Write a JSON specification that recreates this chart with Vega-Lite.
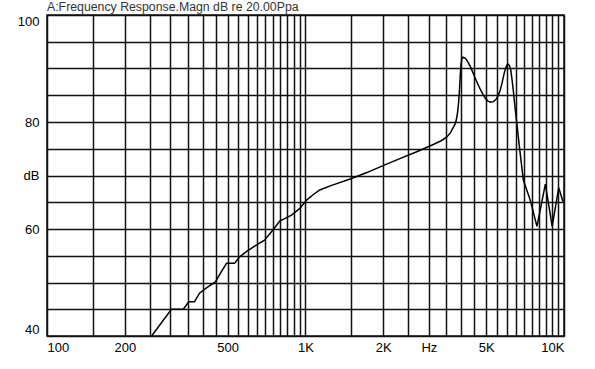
{
  "$schema": "https://vega.github.io/schema/vega-lite/v6.json",
  "width": 517,
  "height": 321,
  "autosize": {"type": "none"},
  "padding": {"left": 47, "top": 15, "right": 31, "bottom": 33},
  "background": "white",
  "title": {"text": "A:Frequency Response.Magn dB re 20.00Ppa", "anchor": "start", "frame": "group", "fontSize": 12.3, "font": "Liberation Sans", "fontWeight": "normal", "color": "#333333", "offset": 2},
  "config": {"view": {"stroke": "#111111", "strokeWidth": 1.5}},
  "data": {"values": [
    {"f": 254, "db": 40},
    {"f": 303, "db": 45},
    {"f": 337, "db": 45},
    {"f": 353, "db": 46.4},
    {"f": 372, "db": 46.4},
    {"f": 389, "db": 48},
    {"f": 414, "db": 49},
    {"f": 448, "db": 50.1},
    {"f": 472, "db": 52},
    {"f": 495, "db": 53.6},
    {"f": 532, "db": 53.6},
    {"f": 556, "db": 54.8},
    {"f": 596, "db": 55.9},
    {"f": 645, "db": 57},
    {"f": 694, "db": 57.9},
    {"f": 748, "db": 59.8},
    {"f": 795, "db": 61.5},
    {"f": 883, "db": 62.6},
    {"f": 948, "db": 63.8},
    {"f": 1010, "db": 65.4},
    {"f": 1070, "db": 66.4},
    {"f": 1135, "db": 67.3},
    {"f": 1270, "db": 68.2},
    {"f": 1480, "db": 69.3},
    {"f": 1718, "db": 70.5},
    {"f": 1985, "db": 71.8},
    {"f": 2305, "db": 73.1},
    {"f": 2680, "db": 74.4},
    {"f": 3090, "db": 75.7},
    {"f": 3350, "db": 76.5},
    {"f": 3520, "db": 77.2},
    {"f": 3640, "db": 78.0},
    {"f": 3720, "db": 78.9},
    {"f": 3790, "db": 79.6},
    {"f": 3840, "db": 80.6},
    {"f": 3880, "db": 82.0},
    {"f": 3910, "db": 83.6},
    {"f": 3940, "db": 85.8},
    {"f": 3965, "db": 88.3},
    {"f": 3990, "db": 90.4},
    {"f": 4020, "db": 91.7},
    {"f": 4070, "db": 92.1},
    {"f": 4130, "db": 92.0},
    {"f": 4190, "db": 91.7},
    {"f": 4250, "db": 91.2},
    {"f": 4330, "db": 90.5},
    {"f": 4410, "db": 89.6},
    {"f": 4500, "db": 88.6},
    {"f": 4580, "db": 87.7},
    {"f": 4680, "db": 86.7},
    {"f": 4780, "db": 85.8},
    {"f": 4880, "db": 85.0},
    {"f": 4980, "db": 84.3},
    {"f": 5080, "db": 83.9},
    {"f": 5200, "db": 83.7},
    {"f": 5330, "db": 83.8},
    {"f": 5450, "db": 84.2},
    {"f": 5560, "db": 84.9},
    {"f": 5660, "db": 85.9},
    {"f": 5760, "db": 87.3},
    {"f": 5850, "db": 88.8},
    {"f": 5930, "db": 89.9},
    {"f": 6010, "db": 90.6},
    {"f": 6090, "db": 90.8},
    {"f": 6160, "db": 90.5},
    {"f": 6230, "db": 89.6},
    {"f": 6300, "db": 87.8},
    {"f": 6380, "db": 85.5},
    {"f": 6470, "db": 82.6},
    {"f": 6560, "db": 80.0},
    {"f": 6700, "db": 76.0},
    {"f": 6850, "db": 72.0},
    {"f": 6960, "db": 69.2},
    {"f": 7400, "db": 65.4},
    {"f": 7860, "db": 60.5},
    {"f": 8470, "db": 68.4},
    {"f": 9000, "db": 60.5},
    {"f": 9540, "db": 67.7},
    {"f": 9870, "db": 65.4},
    {"f": 10000, "db": 65}
  ]},
  "mark": {"type": "line", "color": "black", "strokeWidth": 1.5, "clip": true},
  "encoding": {
    "x": {
      "field": "f", "type": "quantitative",
      "scale": {"type": "log", "domain": [100, 10000], "nice": false},
      "axis": {
        "title": null,
        "values": [100,150,200,250,300,350,400,450,500,550,600,650,700,750,800,850,900,950,1000,1500,2000,2500,3000,3500,4000,4500,5000,5500,6000,6500,7000,7500,8000,8500,9000,9500,10000],
        "labelExpr": "datum.value == 100 ? '100' : datum.value == 200 ? '200' : datum.value == 500 ? '500' : datum.value == 1000 ? '1K' : datum.value == 2000 ? '2K' : datum.value == 3000 ? 'Hz' : datum.value == 5000 ? '5K' : datum.value == 10000 ? '10K' : ''",
        "labelOverlap": false,
        "labelFlush": true,
        "labelFont": "Liberation Sans",
        "labelFontSize": 13,
        "labelColor": "black",
        "labelPadding": 5,
        "ticks": false,
        "domain": false,
        "grid": true,
        "gridColor": "#111111",
        "gridWidth": 1.5,
        "gridOpacity": 1
      }
    },
    "y": {
      "field": "db", "type": "quantitative",
      "scale": {"domain": [40, 100], "nice": false, "zero": false},
      "axis": {
        "title": null,
        "values": [40,45,50,55,60,65,70,75,80,85,90,95,100],
        "labelExpr": "datum.value == 100 ? '100' : datum.value == 80 ? '80' : datum.value == 70 ? 'dB' : datum.value == 60 ? '60' : datum.value == 40 ? '40' : ''",
        "labelOverlap": false,
        "labelFlush": true,
        "labelFont": "Liberation Sans",
        "labelFontSize": 13,
        "labelColor": "black",
        "labelPadding": 8,
        "ticks": false,
        "domain": false,
        "grid": true,
        "gridColor": "#111111",
        "gridWidth": 1.5,
        "gridOpacity": 1
      }
    }
  }
}
